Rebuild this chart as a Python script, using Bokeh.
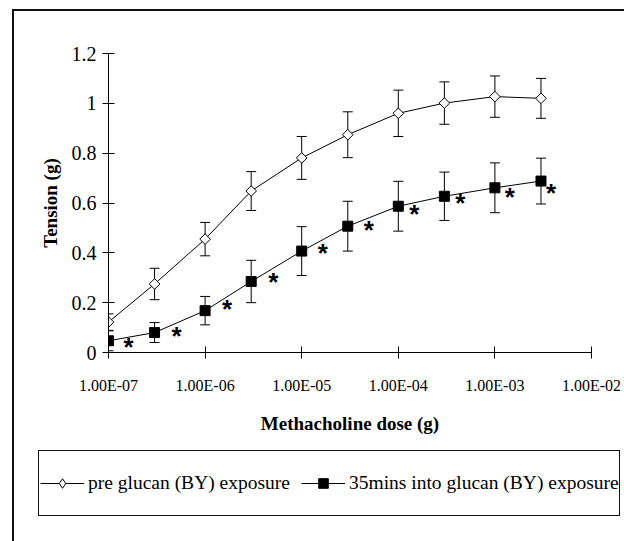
import numpy as np
from bokeh.plotting import figure
from bokeh.models import (Range1d, FixedTicker, Whisker, TeeHead, ColumnDataSource,
                          Legend, LegendItem)
from bokeh.embed import file_html
from bokeh.resources import INLINE
from bokeh.core.properties import value

# ---- data ----
doses = [1e-7, 3e-7, 1e-6, 3e-6, 1e-5, 3e-5, 1e-4, 3e-4, 1e-3, 3e-3]
pre_mean = [0.122, 0.275, 0.455, 0.648, 0.781, 0.874, 0.960, 1.001, 1.027, 1.020]
pre_err = [0.033, 0.063, 0.067, 0.078, 0.086, 0.092, 0.093, 0.085, 0.083, 0.080]
post_mean = [0.047, 0.080, 0.168, 0.285, 0.407, 0.507, 0.587, 0.627, 0.661, 0.688]
post_err = [0.040, 0.040, 0.057, 0.085, 0.098, 0.100, 0.100, 0.097, 0.100, 0.092]
x_tick_values = [1e-7, 1e-6, 1e-5, 1e-4, 1e-3, 1e-2]
x_tick_labels = ["1.00E-07", "1.00E-06", "1.00E-05", "1.00E-04", "1.00E-03", "1.00E-02"]
y_tick_values = [0, 0.2, 0.4, 0.6, 0.8, 1.0, 1.2]
y_tick_labels = ["0", "0.2", "0.4", "0.6", "0.8", "1", "1.2"]
series_labels = ["pre glucan (BY) exposure", "35mins into glucan (BY) exposure"]
x_title = "Methacholine dose (g)"
y_title = "Tension (g)"
star_marks = ["*"] * len(doses)

# ---- style (pixel offsets of the significance asterisks) ----
star_dx = [20, 22, 22, 22, 21, 21, 16, 16, 15, 10]
star_dy = [5, 2, -3, 0, 1, 3, 7, 6, 8, 11]

SERIF = "Liberation Serif"
MAIN_H = 441
LEG_H = 100


def css_boxes(boxes):
    return {
        "background-color": "white",
        "background-image": ", ".join(["linear-gradient(#111111, #111111)"] * len(boxes)),
        "background-repeat": "no-repeat",
        "background-position": ", ".join(f"{b[0]}px {b[1]}px" for b in boxes),
        "background-size": ", ".join(f"{b[2]}px {b[3]}px" for b in boxes),
    }


# ---------------- main chart ----------------
p = figure(width=624, height=MAIN_H, x_axis_type="log",
           x_range=Range1d(1e-7, 1e-2), y_range=Range1d(0, 1.2),
           output_backend="svg", toolbar_location=None,
           min_border_left=108, min_border_right=33,
           min_border_top=53, min_border_bottom=MAIN_H - 352,
           styles=css_boxes([(12, 9, 612, 2), (12, 9, 2, MAIN_H - 9)]))
p.outline_line_color = None
p.grid.grid_line_color = None
p.background_fill_color = None
p.border_fill_color = None

pre_src = ColumnDataSource(dict(x=doses, y=pre_mean,
                                upper=[m + e for m, e in zip(pre_mean, pre_err)],
                                lower=[m - e for m, e in zip(pre_mean, pre_err)]))
post_src = ColumnDataSource(dict(x=doses, y=post_mean,
                                 upper=[m + e for m, e in zip(post_mean, post_err)],
                                 lower=[m - e for m, e in zip(post_mean, post_err)]))

for src in (pre_src, post_src):
    w = Whisker(base="x", upper="upper", lower="lower", source=src,
                line_color="black", line_width=1,
                upper_head=TeeHead(size=10, line_color="black", line_width=1),
                lower_head=TeeHead(size=10, line_color="black", line_width=1))
    p.add_layout(w)

p.line("x", "y", source=pre_src, line_color="black", line_width=1)
p.scatter("x", "y", source=pre_src, marker="square", angle=np.pi / 4, size=7.5,
          fill_color="white", line_color="black", line_width=1)
p.line("x", "y", source=post_src, line_color="black", line_width=1)
p.scatter("x", "y", source=post_src, marker="square", size=10,
          fill_color="black", line_color="black")

star_src = ColumnDataSource(dict(x=doses, y=post_mean, t=star_marks,
                                 dx=star_dx, dy=[d + 1 for d in star_dy]))
p.text("x", "y", text="t", source=star_src, x_offset="dx", y_offset="dy",
       text_font=value("Liberation Sans"), text_font_style="bold",
       text_font_size="26px", text_align="center", text_baseline="middle",
       text_color="black")

p.xaxis.ticker = FixedTicker(ticks=x_tick_values)
p.xaxis.major_label_overrides = {v: l for v, l in zip(x_tick_values, x_tick_labels)}
p.yaxis.ticker = FixedTicker(ticks=y_tick_values)
p.yaxis.major_label_overrides = {v: l for v, l in zip(y_tick_values, y_tick_labels)}
for ax in (p.xaxis[0], p.yaxis[0]):
    ax.axis_line_color = "black"
    ax.major_tick_line_color = "black"
    ax.major_tick_in = 6
    ax.major_tick_out = 6
    ax.minor_tick_line_color = None
    ax.major_label_text_font = SERIF
    ax.major_label_text_color = "black"
    ax.axis_label_text_font = SERIF
    ax.axis_label_text_font_style = "bold"
    ax.axis_label_text_font_size = "19px"
    ax.axis_label_text_color = "black"
p.xaxis.major_label_text_font_size = "16px"
p.yaxis.major_label_text_font_size = "20px"
p.xaxis.major_label_standoff = 18
p.yaxis.major_label_standoff = 6
p.xaxis.axis_label = x_title
p.yaxis.axis_label = y_title
p.xaxis.axis_label_standoff = 16
p.yaxis.axis_label_standoff = 8

# ---------------- legend strip (separate root, so its frame is not aligned) ----------------
lg = figure(width=624, height=LEG_H, x_range=Range1d(0, 1), y_range=Range1d(0, 1),
            output_backend="svg", toolbar_location=None,
            x_axis_location=None, y_axis_location=None,
            min_border_left=0, min_border_right=0, min_border_top=0, min_border_bottom=0,
            styles=css_boxes([(12, 0, 2, LEG_H),
                              (38, 450 - MAIN_H, 582, 1), (38, 515 - MAIN_H, 582, 1),
                              (38, 450 - MAIN_H, 1, 66), (619, 450 - MAIN_H, 1, 66)]))
lg.outline_line_color = None
lg.grid.grid_line_color = None
lg.background_fill_color = None
lg.border_fill_color = None

# legend glyph renderers (their points lie outside the visible range)
off = ColumnDataSource(dict(x=[-5, -4], y=[-5, -4]))
g_pre_l = lg.line("x", "y", source=off, line_color="black", line_width=1)
g_pre_m = lg.scatter("x", "y", source=off, marker="diamond", size=10,
                     fill_color="white", line_color="black", line_width=1)
g_post_l = lg.line("x", "y", source=off, line_color="black", line_width=1)
g_post_m = lg.scatter("x", "y", source=off, marker="square", size=10,
                      fill_color="black", line_color="black")

legend = Legend(items=[LegendItem(label=series_labels[0], renderers=[g_pre_l, g_pre_m]),
                       LegendItem(label=series_labels[1], renderers=[g_post_l, g_post_m])],
                orientation="horizontal", location=(40, 46),
                glyph_width=44, glyph_height=24, label_standoff=4, spacing=11,
                padding=0, margin=0, border_line_color=None, background_fill_alpha=0,
                label_text_font=SERIF, label_text_font_size="19.5px",
                label_text_color="black")
lg.add_layout(legend, "center")

open("out.html", "w").write(file_html([p, lg], INLINE))
